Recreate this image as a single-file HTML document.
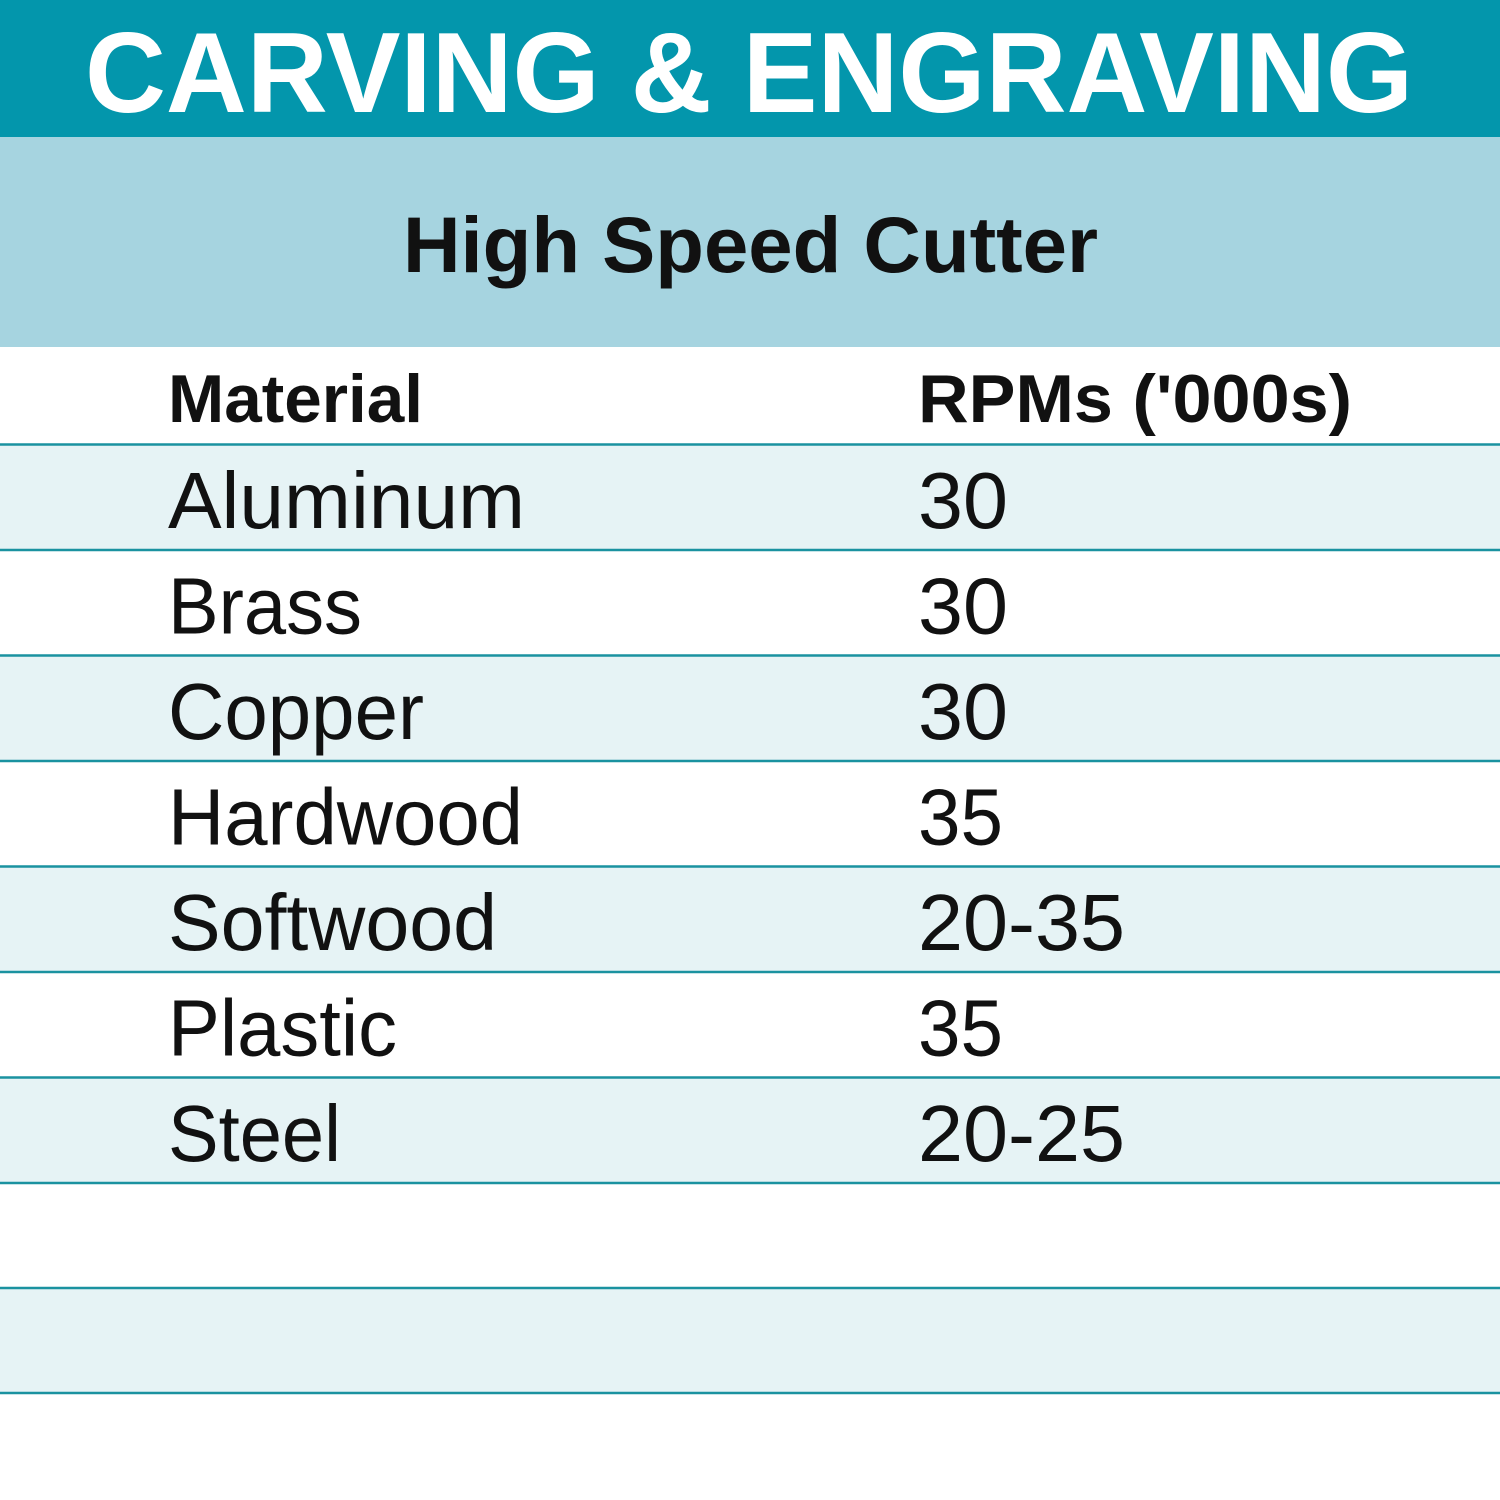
<!DOCTYPE html>
<html><head><meta charset="utf-8"><style>html,body{margin:0;padding:0;background:#fff}svg{display:block}</style></head>
<body>
<svg width="1500" height="1500" viewBox="0 0 1500 1500" xmlns="http://www.w3.org/2000/svg" font-family="'Liberation Sans', sans-serif">
<rect x="0" y="0" width="1500" height="1500" fill="#fff"/>
<rect x="0" y="0" width="1500" height="137" fill="#0396ac"/>
<rect x="0" y="137" width="1500" height="210" fill="#a6d4e0"/>
<g fill="#e6f3f5">
<rect x="0" y="445" width="1500" height="105"/>
<rect x="0" y="656" width="1500" height="105"/>
<rect x="0" y="867" width="1500" height="105"/>
<rect x="0" y="1078" width="1500" height="105"/>
<rect x="0" y="1289" width="1500" height="105"/>
</g>
<g stroke="#1a92a0" stroke-width="2.5">
<line x1="0" x2="1500" y1="444.5" y2="444.5"/>
<line x1="0" x2="1500" y1="550" y2="550"/>
<line x1="0" x2="1500" y1="655.5" y2="655.5"/>
<line x1="0" x2="1500" y1="761" y2="761"/>
<line x1="0" x2="1500" y1="866.5" y2="866.5"/>
<line x1="0" x2="1500" y1="972" y2="972"/>
<line x1="0" x2="1500" y1="1077.5" y2="1077.5"/>
<line x1="0" x2="1500" y1="1183" y2="1183"/>
<line x1="0" x2="1500" y1="1288" y2="1288"/>
<line x1="0" x2="1500" y1="1393" y2="1393"/>
</g>
<text x="85" y="112" font-size="114" font-weight="bold" fill="#fff" textLength="1328" lengthAdjust="spacingAndGlyphs">CARVING &amp; ENGRAVING</text>
<text x="403" y="272" font-size="79" font-weight="bold" fill="#111" textLength="695" lengthAdjust="spacingAndGlyphs">High Speed Cutter</text>
<text x="168" y="422" font-size="68" font-weight="bold" fill="#111" textLength="255" lengthAdjust="spacingAndGlyphs">Material</text>
<text x="918" y="422" font-size="68" font-weight="bold" fill="#111" textLength="434" lengthAdjust="spacingAndGlyphs">RPMs ('000s)</text>
<g font-size="80" fill="#111" lengthAdjust="spacingAndGlyphs">
<text x="168" y="528" textLength="357" lengthAdjust="spacingAndGlyphs">Aluminum</text><text x="918" y="528" textLength="90" lengthAdjust="spacingAndGlyphs">30</text>
<text x="168" y="633.5" textLength="194" lengthAdjust="spacingAndGlyphs">Brass</text><text x="918" y="633.5" textLength="90" lengthAdjust="spacingAndGlyphs">30</text>
<text x="168" y="739" textLength="256" lengthAdjust="spacingAndGlyphs">Copper</text><text x="918" y="739" textLength="90" lengthAdjust="spacingAndGlyphs">30</text>
<text x="168" y="844.5" textLength="355" lengthAdjust="spacingAndGlyphs">Hardwood</text><text x="918" y="844.5" textLength="85" lengthAdjust="spacingAndGlyphs">35</text>
<text x="168" y="950" textLength="329" lengthAdjust="spacingAndGlyphs">Softwood</text><text x="918" y="950" textLength="207" lengthAdjust="spacingAndGlyphs">20-35</text>
<text x="168" y="1055.5" textLength="229" lengthAdjust="spacingAndGlyphs">Plastic</text><text x="918" y="1055.5" textLength="85" lengthAdjust="spacingAndGlyphs">35</text>
<text x="168" y="1161" textLength="173" lengthAdjust="spacingAndGlyphs">Steel</text><text x="918" y="1161" textLength="207" lengthAdjust="spacingAndGlyphs">20-25</text>
</g>
</svg>
</body></html>
